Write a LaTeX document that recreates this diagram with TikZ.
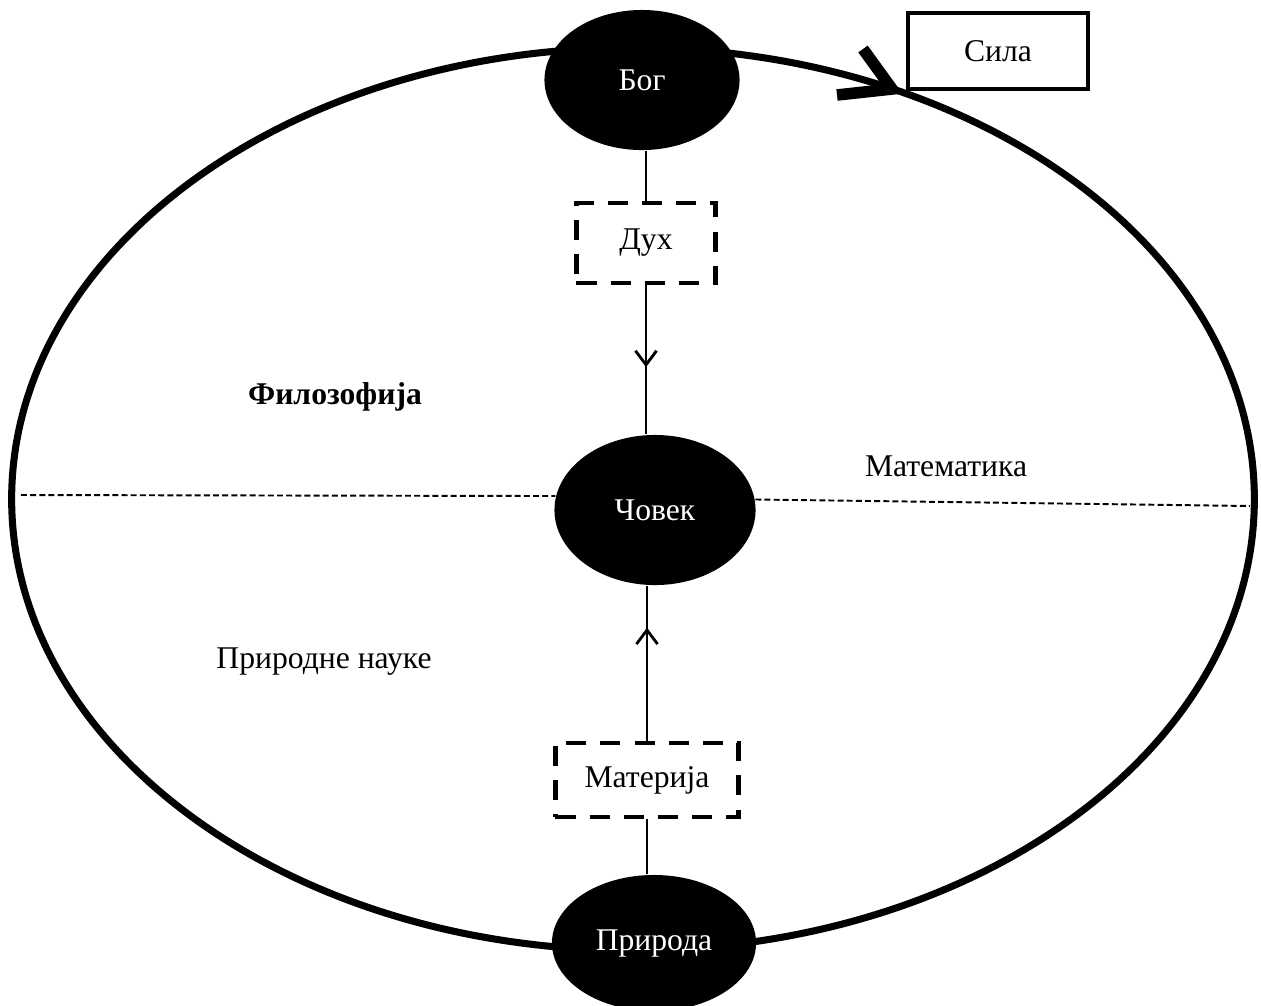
\documentclass[tikz,border=0pt]{standalone}
\usepackage{fontspec}
\setmainfont{Liberation Serif}
\usetikzlibrary{positioning}
\usetikzlibrary{shapes.geometric}
\usetikzlibrary{arrows.meta}
\usetikzlibrary{decorations.markings}

\begin{document}
\begin{tikzpicture}[x=0.01cm,y=-0.01cm,font=\fontsize{9}{11}\selectfont,
  blob/.style={ellipse,fill=black,text=white,inner sep=0pt},
  dashbox/.style={draw,line width=1.2pt,dash pattern=on 5.7pt off 4pt,inner sep=0pt},
  link/.style={line width=0.8pt},
  divider/.style={line width=0.55pt,dash pattern=on 1.7pt off 0.9pt},
  midarrow/.style={postaction={decorate},decoration={markings,mark=at position #1 with {\arrow{Straight Barb[length=4pt,width=6pt]}}}}]
 \useasboundingbox (0,0) rectangle (1261,1005);
 % big ring
 \draw[line width=2pt](633,499) ellipse [x radius=6.21cm,y radius=4.51cm];
 \draw[line width=3.3pt](863,49)--(892,89)--(837,95);
 % dividing line
 \coordinate (leftend) at (21,495);
 \coordinate (rightend) at (1250,506);
 % main nodes
 \node[blob,minimum width=1.95cm,minimum height=1.4cm] (bog) at (642,80) {Бог};
 \node[blob,minimum width=2.01cm,minimum height=1.5cm] (covek) at (655,510) {Човек};
 \node[blob,minimum width=2.04cm,minimum height=1.36cm] (priroda) at (654,943) {Природа};
 \node[dashbox,minimum width=1.39cm,minimum height=0.8cm] (duh) at (646,243) {Дух};
 \node[dashbox,minimum width=1.83cm,minimum height=0.74cm] (materija) at (647,780) {Материја};
 \node[draw,line width=1.2pt,minimum width=1.8cm,minimum height=0.76cm,inner sep=0pt] (sila) at (998,51) {Сила};
 % fields
 \node[font=\fontsize{9}{11}\selectfont\bfseries] (filozofija) at (335,397) {Филозофија};
 \node (matematika) at (946,466) {Математика};
 \node (nauke) at (324,662) {Природне науке};
 % links
 \draw[divider](leftend)--(covek.172);
 \draw[divider](covek.6)--(rightend);
 \draw[link](bog.south -| duh.north)--(duh.north);
 \draw[link,midarrow=0.55](duh.south)--(duh.south |- covek.north);
 \draw[link,midarrow=0.73](materija.north)--(materija.north |- covek.south);
 \draw[link](priroda.north -| materija.south)--(materija.south);
\end{tikzpicture}
\end{document}
